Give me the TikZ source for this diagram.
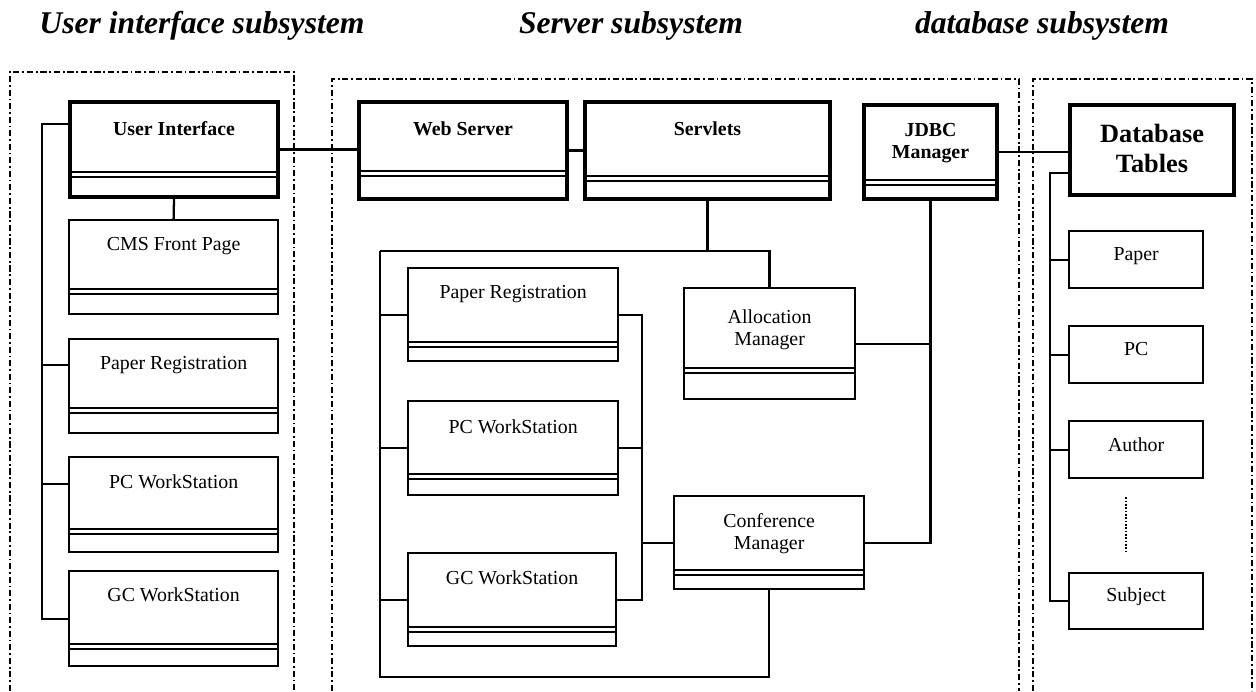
\documentclass[tikz,border=0pt]{standalone}
\usepackage{fontspec}
\setmainfont{Liberation Serif}
\usetikzlibrary{calc}

\begin{document}
\begin{tikzpicture}[x=0.02cm,y=-0.02cm,
  cls/.style={draw,line width=1.3pt,inner sep=0pt,anchor=north west,align=center,
    font=\fontsize{11.3}{12.5}\selectfont},
  heavy/.style={line width=2.3pt,font=\fontsize{11.3}{12.5}\selectfont\bfseries},
  part/.style={path picture={\draw[line width=1.1pt]
    (path picture bounding box.south west) ++(0,-#1-5) -- +(1000,0)
    ++(0,5) -- +(1000,0);}},
  wire/.style={line width=1.3pt},
  zone/.style={line width=1.2pt,dash pattern=on 3.5pt off 1.6pt on 1pt off 1.6pt},
  head/.style={anchor=base,font=\fontsize{18}{20}\selectfont\bfseries\itshape}]
\useasboundingbox (0,0) rectangle (1256,691);
% subsystems
\node[head] (thui) at (202,33) {User interface subsystem};
\node[head] (thsv) at (631,33) {Server subsystem};
\node[head] (thdb) at (1042,33) {database subsystem};
\draw[zone] (10,691) |- (294,72) -- (294,691);
\draw[zone] (332,691) |- (1019,79) -- (1019,691);
\draw[zone] (1033,691) |- (1252,79) -- (1252,691);
% user interface side
\node[cls,heavy,part=20,minimum width=4.16cm,text height=0.66cm,text depth=1.24cm] (ui) at (68,100) {User Interface};
\node[cls,part=20,minimum width=4.18cm,text height=0.60cm,text depth=1.28cm] (cms) at (68,219) {CMS Front Page};
\node[cls,part=20,minimum width=4.18cm,text height=0.60cm,text depth=1.28cm] (prui) at (68,338) {Paper Registration};
\node[cls,part=18,minimum width=4.18cm,text height=0.62cm,text depth=1.28cm] (pcui) at (68,456) {PC WorkStation};
\node[cls,part=17,minimum width=4.18cm,text height=0.60cm,text depth=1.30cm] (gcui) at (68,570) {GC WorkStation};
% server side
\node[cls,heavy,part=23,minimum width=4.16cm,text height=0.66cm,text depth=1.28cm] (web) at (357,100) {Web Server};
\node[cls,heavy,part=18,minimum width=4.90cm,text height=0.66cm,text depth=1.28cm] (srv) at (583,100) {Servlets};
\node[cls,heavy,part=14,minimum width=2.66cm,text height=1.06cm,text depth=0.82cm] (jdbc) at (862,103) {JDBC\\Manager};
\node[cls,part=14,minimum width=4.20cm,text height=0.60cm,text depth=1.26cm] (prs) at (407,267) {Paper Registration};
\node[cls,part=16,minimum width=4.20cm,text height=0.64cm,text depth=1.24cm] (pcs) at (407,400) {PC WorkStation};
\node[cls,part=14,minimum width=4.16cm,text height=0.62cm,text depth=1.24cm] (gcs) at (407,552) {GC WorkStation};
\node[cls,part=26,minimum width=3.42cm,text height=1.14cm,text depth=1.08cm] (alloc) at (683,287) {Allocation\\Manager};
\node[cls,part=14,minimum width=3.80cm,text height=1.06cm,text depth=0.80cm] (conf) at (673,495) {Conference\\Manager};
% database side
\node[cls,line width=2.3pt,font=\fontsize{15}{17}\selectfont\bfseries,minimum width=3.28cm,text height=1.34cm,text depth=0.46cm] (dbt) at (1068,103) {Database\\Tables};
\node[cls,minimum width=2.68cm,text height=0.58cm,text depth=0.56cm] (paper) at (1068,230) {Paper};
\node[cls,minimum width=2.68cm,text height=0.58cm,text depth=0.56cm] (pc) at (1068,325) {PC};
\node[cls,minimum width=2.68cm,text height=0.60cm,text depth=0.54cm] (author) at (1068,420) {Author};
\node[cls,minimum width=2.68cm,text height=0.56cm,text depth=0.56cm] (subj) at (1068,572) {Subject};
\draw[densely dotted,line width=0.9pt] ($(author.south)+(-10,18)$) -- ($(subj.north)+(-10,-19)$);
% links
\draw[wire] (ui.south) -- (cms.north);
\draw[wire] (ui.east) -- (ui.east -| web.west);
\draw[wire] (web.east) -- (web.east -| srv.west);
\draw[wire] (jdbc.east) -- (jdbc.east -| dbt.west);
\coordinate (uibus) at (42,124);
\draw[wire] (ui.west |- uibus) -- (uibus) |- (gcui.west);
\foreach \t in {prui,pcui} \draw[wire] (uibus |- \t.mid west) -- (\t.mid west);
\coordinate (grp) at (380,251);
\coordinate (grpend) at (380,677);
\draw[wire] (srv.south) -- (srv.south |- grp);
\draw[wire] (grp) -| (alloc.north);
\draw[wire] (grp) -- (grpend) -| (conf.south);
\foreach \t in {prs,pcs,gcs} \draw[wire] (grp |- \t.west) -- (\t.west);
\coordinate (wsbus) at (642,315);
\draw[wire] (prs.east) -| (wsbus |- gcs.east) -- (gcs.east);
\draw[wire] (pcs.east) -- (pcs.east -| wsbus);
\draw[wire] (wsbus |- conf.west) -- (conf.west);
\draw[wire] (jdbc.south) |- (conf.east);
\draw[wire] (alloc.east) -- (alloc.east -| jdbc.south);
\coordinate (dbbus) at (1050,173);
\draw[wire] (dbbus -| dbt.west) -- (dbbus) |- (subj.west);
\foreach \t in {paper,pc,author} \draw[wire] (dbbus |- \t.west) -- (\t.west);
\end{tikzpicture}
\end{document}
